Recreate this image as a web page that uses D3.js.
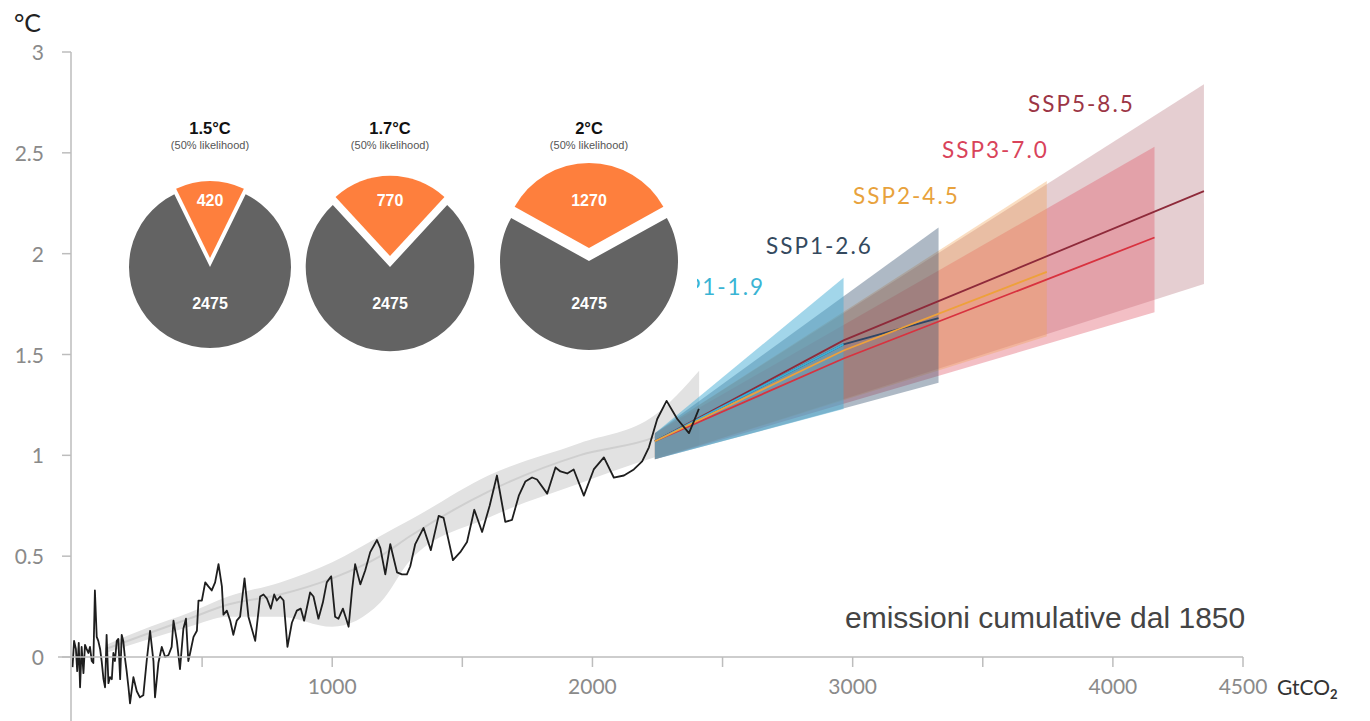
<!DOCTYPE html>
<html>
<head>
<meta charset="utf-8">
<script src="https://cdn.jsdelivr.net/npm/d3@7"></script>
<style>
  body { margin: 0; background: #fff; }
  svg { display: block; }
</style>
</head>
<body>
<div id="chart"></div>
<script>
// ---- data ----
// observed warming vs cumulative CO2 emissions (GtCO2, degC)
var histEmissions = [2,8,15,20,26,31,37,44,50,56,63,69,76,82,88,95,101,108,114,121,127,133,140,146,153,159,165,172,178,185,191,197,204,210,217,223,236,249,261,274,287,300,313,319,332,345,358,371,383,390,403,415,428,438,447,454,467,480,486,499,512,524,537,550,563,576,582,595,608,620,633,646,
  663,678,704,723,736,749,764,777,787,800,813,828,845,864,879,892,915,928,947,964,979,996,1011,1024,1041,1056,1063,1076,1088,1108,1127,1146,1172,1185,1204,1223,1236,1249,1268,1287,1300,
  1319,1351,1379,1409,1428,1464,1492,1518,1546,1576,1605,1633,1665,1691,1717,1742,1768,1787,1826,1858,1877,1903,1928,
  1967,2005,2044,2082,2121,2159,2191,2217,2249,2285,2326,2371,2390,2409];
var histTemp = [-0.05,0.08,0.04,-0.07,0.07,-0.15,0.05,-0.08,0.06,0.04,0.02,0.05,-0.02,-0.03,0.33,0.10,0.08,0.04,-0.02,-0.11,-0.15,0.11,-0.13,-0.10,-0.11,0.02,-0.02,0.08,0.09,-0.11,0.11,0.08,-0.01,-0.07,-0.15,-0.23,-0.10,-0.17,-0.20,-0.19,-0.02,0.13,-0.02,-0.20,-0.03,0.05,0.00,0.01,0.05,0.18,0.08,-0.06,0.14,0.19,-0.02,0.02,0.10,0.13,0.28,0.28,0.37,0.35,0.33,0.37,0.46,0.35,0.21,0.23,0.18,0.11,0.18,0.20,
  0.39,0.20,0.08,0.30,0.31,0.29,0.24,0.31,0.28,0.30,0.28,0.05,0.17,0.23,0.24,0.18,0.32,0.30,0.19,0.27,0.37,0.40,0.20,0.19,0.24,0.18,0.15,0.33,0.46,0.36,0.43,0.52,0.58,0.54,0.41,0.56,0.49,0.42,0.41,0.41,0.45,
  0.56,0.64,0.53,0.70,0.69,0.48,0.52,0.57,0.73,0.62,0.75,0.90,0.67,0.68,0.80,0.87,0.89,0.88,0.81,0.94,0.92,0.91,0.93,
  0.80,0.93,0.99,0.89,0.90,0.93,0.97,1.04,1.18,1.27,1.18,1.11,1.17,1.23];

// human-induced warming estimate (grey band)
var bandEmissions = [130,300,450,600,800,1000,1185,1300,1600,1950,2240,2410];
var bandLow  = [0.02,0.09,0.15,0.20,0.20,0.15,0.27,0.48,0.69,0.86,0.99,1.05];
var bandMid  = [0.04,0.12,0.19,0.26,0.31,0.39,0.50,0.60,0.82,1.00,1.09,1.20];
var bandHigh = [0.06,0.15,0.22,0.30,0.37,0.47,0.60,0.68,0.90,1.06,1.20,1.42];

// scenarios: [emissions, low, high] for the fans and [emissions, median] for the lines
var scenarioNames = ["SSP5-8.5", "SSP3-7.0", "SSP2-4.5", "SSP1-2.6", "SSP1-1.9"];
var fanSSP585 = [[2240,0.98,1.11],[4350,1.85,2.84]];
var fanSSP370 = [[2240,0.98,1.11],[4160,1.71,2.53]];
var fanSSP245 = [[2240,0.98,1.11],[3746,1.59,2.36]];
var fanSSP126 = [[2240,0.98,1.11],[3330,1.36,2.13]];
var fanSSP119 = [[2240,0.98,1.11],[2965,1.23,1.88]];
var medSSP585 = [[2240,1.07],[2965,1.57],[4350,2.31]];
var medSSP370 = [[2240,1.07],[2965,1.48],[4160,2.08]];
var medSSP245 = [[2240,1.07],[2965,1.52],[3746,1.91]];
var medSSP126 = [[2240,1.07],[2965,1.55],[3330,1.68]];
var medSSP119 = [[2240,1.07],[2965,1.55]];

// remaining carbon budgets (pies)
var pieTitles = ["1.5°C", "1.7°C", "2°C"];
var pieBudget = [420, 770, 1270];
var pieEmitted = [2475, 2475, 2475];

var xTicks = [500,1000,1500,2000,2500,3000,3500,4000,4500];
var xLabels = [1000,2000,3000,4000,4500];
var yTicks = [0,0.5,1,1.5,2,2.5,3];

// ---- layout ----
var W = 1370, H = 721;
var svg = d3.select("#chart").append("svg")
  .attr("width", W).attr("height", H);

var x = d3.scaleLinear().domain([0, 4500]).range([72, 1243]);
var y = d3.scaleLinear().domain([0, 3]).range([657, 52]);

var fans = [fanSSP585, fanSSP370, fanSSP245, fanSSP126, fanSSP119];
var meds = [medSSP585, medSSP370, medSSP245, medSSP126, medSSP119];
var fanFill = ["#c08a92", "#e0606e", "#f0a050", "#34506e", "#45aed6"];
var fanOpacity = [0.42, 0.4, 0.35, 0.4, 0.5];
var lineColor = ["#8e2a3a", "#d8323f", "#eea13a", "#2e4566", "#3ab0d8"];
var labelColor = ["#9c3545", "#d9435a", "#e8a23c", "#34495e", "#3ab4d4"];

// grey band
var band = bandEmissions.map(function(g, i) { return {g: g, lo: bandLow[i], mid: bandMid[i], hi: bandHigh[i]}; });
svg.append("path")
  .datum(band)
  .attr("d", d3.area().curve(d3.curveMonotoneX)
    .x(function(d) { return x(d.g); })
    .y0(function(d) { return y(d.lo); })
    .y1(function(d) { return y(d.hi); }))
  .style("fill", "#e2e2e2");
svg.append("path")
  .datum(band)
  .attr("d", d3.line().curve(d3.curveMonotoneX)
    .x(function(d) { return x(d.g); })
    .y(function(d) { return y(d.mid); }))
  .style("fill", "none").style("stroke", "#cfcfcf").style("stroke-width", 2);

// scenario fans
fans.forEach(function(f, i) {
  svg.append("path")
    .datum(f)
    .attr("d", d3.area()
      .x(function(d) { return x(d[0]); })
      .y0(function(d) { return y(d[1]); })
      .y1(function(d) { return y(d[2]); }))
    .style("fill", fanFill[i])
    .style("opacity", fanOpacity[i]);
});

// scenario medians (orange drawn last)
[0, 1, 3, 4, 2].forEach(function(i) {
  svg.append("path")
    .datum(meds[i])
    .attr("d", d3.line()
      .x(function(d) { return x(d[0]); })
      .y(function(d) { return y(d[1]); }))
    .style("fill", "none")
    .style("stroke", lineColor[i])
    .style("stroke-width", 1.8);
});

// observed line
svg.append("path")
  .datum(histEmissions.map(function(g, i) { return [g, histTemp[i]]; }))
  .attr("d", d3.line()
    .x(function(d) { return x(d[0]); })
    .y(function(d) { return y(d[1]); }))
  .style("fill", "none")
  .style("stroke", "#1e1e1e")
  .style("stroke-width", 1.8)
  .style("stroke-linejoin", "round");

// scenario labels, placed above the upper end of each fan
var labelPos = [[1028, 112], [942, 158], [853, 204], [766, 254], [765, 295]];
scenarioNames.forEach(function(n, i) {
  svg.append("text")
    .attr("x", labelPos[i][0])
    .attr("y", labelPos[i][1])
    .attr("text-anchor", i == 4 ? "end" : "start")
    .style("font-family", "Lato, sans-serif")
    .style("font-size", "22.5px")
    .style("letter-spacing", "2px")
    .style("fill", labelColor[i])
    .text(n);
});

// axes
var axisColor = "#bdbdbd";
svg.append("line")
  .attr("x1", 71).attr("x2", 71).attr("y1", y(3)).attr("y2", H)
  .style("stroke", axisColor).style("stroke-width", 1.5);
svg.append("line")
  .attr("x1", 58).attr("x2", x(4500)).attr("y1", y(0)).attr("y2", y(0))
  .style("stroke", axisColor).style("stroke-width", 1.5);

svg.selectAll(".ytick").data(yTicks).enter().append("line")
  .attr("x1", 62).attr("x2", 71)
  .attr("y1", function(d) { return y(d); }).attr("y2", function(d) { return y(d); })
  .style("stroke", axisColor).style("stroke-width", 1.5);
svg.selectAll(".ylab").data(yTicks).enter().append("text")
  .attr("x", 44)
  .attr("y", function(d) { return y(d) + 8; })
  .attr("text-anchor", "end")
  .style("font-family", "Lato, sans-serif")
  .style("font-size", "21px")
  .style("fill", "#8a8a8a")
  .text(function(d) { return d; });

svg.selectAll(".xtick").data(xTicks).enter().append("line")
  .attr("x1", function(d) { return x(d); }).attr("x2", function(d) { return x(d); })
  .attr("y1", y(0)).attr("y2", y(0) + 10)
  .style("stroke", axisColor).style("stroke-width", 1.5);
svg.selectAll(".xlab").data(xLabels).enter().append("text")
  .attr("x", function(d) { return x(d); })
  .attr("y", 694)
  .attr("text-anchor", "middle")
  .style("font-family", "Lato, sans-serif")
  .style("font-size", "21px")
  .style("fill", "#8a8a8a")
  .text(function(d) { return d; });

svg.append("text")
  .attr("x", 14).attr("y", 32)
  .style("font-family", "Lato, sans-serif")
  .style("font-size", "25px")
  .style("fill", "#222")
  .text("°C");

var unit = svg.append("text")
  .attr("x", 1277).attr("y", 695)
  .style("font-family", "Lato, sans-serif")
  .style("font-size", "21px")
  .style("fill", "#333")
  .text("GtCO");
unit.append("tspan").attr("dy", 4).style("font-size", "13px").style("font-weight", "bold").text("2");

svg.append("text")
  .attr("x", 845).attr("y", 628)
  .style("font-family", "'Liberation Sans', Arial, sans-serif")
  .style("font-size", "30px")
  .style("fill", "#444")
  .text("emissioni cumulative dal 1850");

// ---- carbon budget pies ----
svg.append("rect")
  .attr("x", 96).attr("y", 95).attr("width", 601).attr("height", 265)
  .style("fill", "#fff");

var pieCx = [210, 390, 589];
var pieCy = [267, 267, 261];
var rScale = d3.scaleLinear().domain([2895, 3745]).range([81, 89]);

pieTitles.forEach(function(t, i) {
  var total = pieBudget[i] + pieEmitted[i];
  var r = rScale(total);
  var a = 2 * Math.PI * pieBudget[i] / total;
  var off = 9 + 4 * (i / 2);
  var g = svg.append("g");

  g.append("path")
    .attr("transform", "translate(" + pieCx[i] + "," + pieCy[i] + ")")
    .attr("d", d3.arc().innerRadius(0).outerRadius(r).startAngle(a / 2).endAngle(2 * Math.PI - a / 2)())
    .style("fill", "#636363");
  g.append("path")
    .attr("transform", "translate(" + pieCx[i] + "," + (pieCy[i] - off) + ")")
    .attr("d", d3.arc().innerRadius(0).outerRadius(r - 4).startAngle(-a / 2).endAngle(a / 2)())
    .style("fill", "#fe7f3d");

  g.append("text")
    .attr("x", pieCx[i]).attr("y", 206)
    .attr("text-anchor", "middle")
    .style("font-family", "'Liberation Sans', Arial, sans-serif")
    .style("font-weight", "bold").style("font-size", "16px")
    .style("fill", "#fff")
    .text(pieBudget[i]);
  g.append("text")
    .attr("x", pieCx[i]).attr("y", 309)
    .attr("text-anchor", "middle")
    .style("font-family", "'Liberation Sans', Arial, sans-serif")
    .style("font-weight", "bold").style("font-size", "16px")
    .style("fill", "#fff")
    .text(pieEmitted[i]);

  g.append("text")
    .attr("x", pieCx[i]).attr("y", 134)
    .attr("text-anchor", "middle")
    .style("font-family", "'Liberation Sans', Arial, sans-serif")
    .style("font-weight", "bold").style("font-size", "16.5px")
    .style("fill", "#111")
    .text(t);
  g.append("text")
    .attr("x", pieCx[i]).attr("y", 149)
    .attr("text-anchor", "middle")
    .style("font-family", "'Liberation Sans', Arial, sans-serif")
    .style("font-size", "11px")
    .style("fill", "#555")
    .text("(50% likelihood)");
});
</script>
</body>
</html>
